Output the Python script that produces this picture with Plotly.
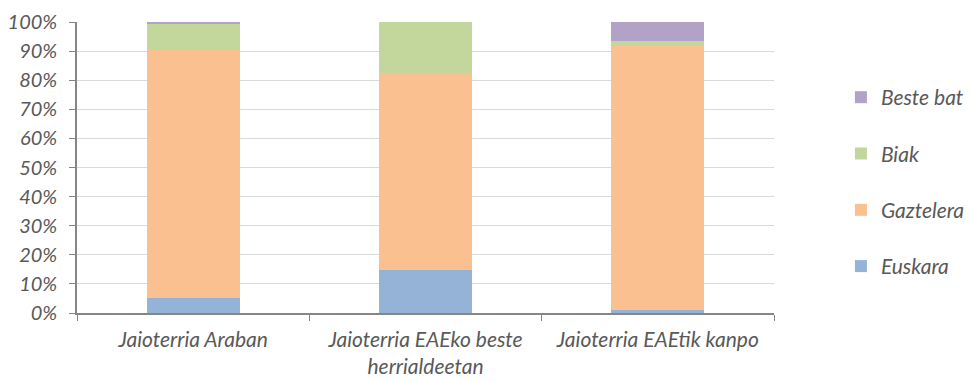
import plotly.graph_objects as go

categories = ["Jaioterria Araban", "Jaioterria EAEko beste<br>herrialdeetan", "Jaioterria EAEtik kanpo"]
euskara = [0.053, 0.148, 0.010]
gaztelera = [0.851, 0.677, 0.909]
biak = [0.092, 0.175, 0.016]
beste_bat = [0.004, 0.0, 0.065]

series = [
    ("Euskara", euskara, "#95b3d7", 4),
    ("Gaztelera", gaztelera, "#fac090", 3),
    ("Biak", biak, "#c3d69b", 2),
    ("Beste bat", beste_bat, "#b2a2c7", 1),
]

font_family = "Lato"
fig = go.Figure()
for name, vals, color, rank in series:
    fig.add_trace(go.Bar(
        x=categories, y=vals, name=name, legendgroup=name, legendrank=rank,
        marker=dict(color=color, line=dict(width=0)),
    ))

fig.update_layout(
    barmode="stack",
    bargap=0.6,
    width=965, height=373,
    margin=dict(l=69, r=199, t=14, b=68, autoexpand=False),
    plot_bgcolor="white", paper_bgcolor="white",
    font=dict(family=font_family, size=20, color="#595959", style="italic"),
    showlegend=True,
    legend=dict(
        x=1.096, y=0.45, xanchor="left", yanchor="middle",
        traceorder="grouped", tracegroupgap=26,
        font=dict(family=font_family, size=21, color="#595959", style="italic"),
        itemwidth=30,
    ),
    xaxis=dict(
        showline=True, linecolor="#868686", linewidth=1.5,
        ticks="outside", tickson="boundaries", ticklen=6, tickcolor="#868686",
        ticklabelstandoff=7,
        tickfont=dict(family=font_family, size=21, color="#595959", style="italic"),
    ),
    yaxis=dict(
        range=[0, 1], dtick=0.1, tickformat=".0%",
        showgrid=True, gridcolor="#d9d9d9", gridwidth=1,
        showline=True, linecolor="#868686", linewidth=1.5,
        ticks="outside", ticklen=6, tickcolor="#868686", ticklabelstandoff=8,
        tickfont=dict(family=font_family, size=20, color="#595959", style="italic"),
        zeroline=False,
    ),
)

fig.write_html("out.html")
